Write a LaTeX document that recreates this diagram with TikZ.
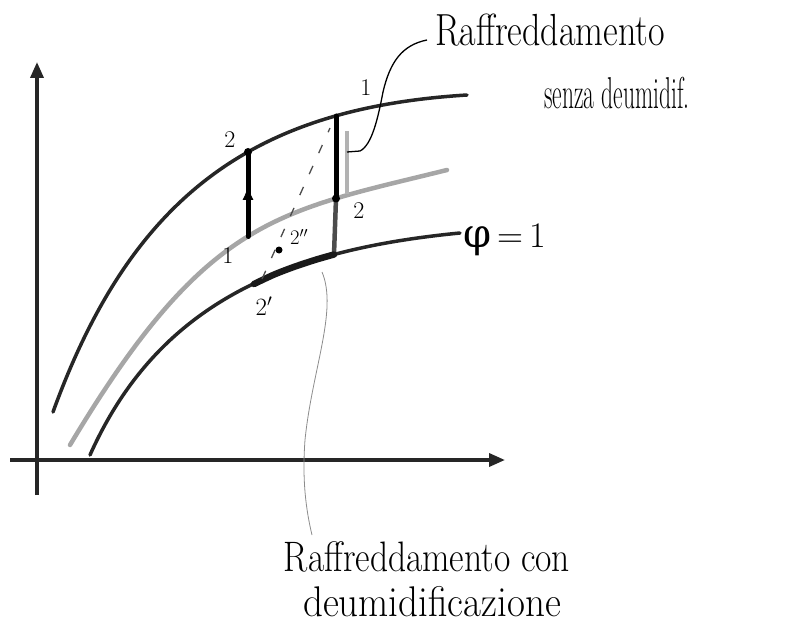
\documentclass[tikz,border=0pt]{standalone}
\usepackage{fontspec}
\newfontfamily\greekfont{DejaVu Serif}
\usetikzlibrary{arrows.meta}
\begin{document}
\begin{tikzpicture}[x=1pt,y=-1pt,
  axis/.style={line width=3.5pt, draw=black!85, -{Triangle[length=16pt,width=13pt]}},
  curvedark/.style={line width=3.5pt, draw=black!85, line cap=round},
  curvegray/.style={line width=4.5pt, draw=black!35, line cap=round},
  procbar/.style={line width=5pt, draw=black, line cap=round},
  leader/.style={line width=1.3pt, draw=black},
  leadergray/.style={line width=0.8pt, draw=black!45},
  dotpt/.style={circle, fill=black, inner sep=0pt, minimum size=8pt},
  lbl/.style={font=\fontsize{24}{28}\selectfont, inner sep=1pt},
  note/.style={inner sep=1pt, align=center}]
\useasboundingbox (0,0) rectangle (795,631);
% axes
\coordinate (xo) at (10,460);
\coordinate (xe) at (505,460);
\coordinate (yo) at (37,495);
\coordinate (ye) at (37,62);
\draw[axis] (xo) -- (xe);
\draw[axis] (yo) -- (ye);
% curves
\draw[curvedark] (53,412) .. controls (133,192) and (257,108) .. (467,95);
\draw[curvegray] (70,445) .. controls (207,216) and (277.5,212) .. (447,170);
\draw[curvedark] (90,455) .. controls (158,303) and (285,250) .. (460,233);
% points
\coordinate (A1) at (336,116);
\coordinate (A2) at (336,198.5);
\coordinate (A3) at (334,254.5);
\coordinate (B1) at (248,236.5);
\coordinate (B2) at (248,152);
\coordinate (C2) at (254,284);
\coordinate (G1) at (347,131);
\coordinate (G2) at (347,194);
\coordinate (D1) at (262,279);
\coordinate (D2) at (330,128);
% process: cooling without dehumidification
\draw[line width=4.5pt, draw=black!70] (A2) -- (A3);
\draw[line width=6.5pt, draw=black!90, line cap=round] plot[smooth, tension=0.5] coordinates {(A3) (315.8,259.7) (294.3,266.8) (273.8,274.7) (C2)};
\draw[procbar] (A1) -- (A2);
\draw[line width=4pt, draw=black!30] (G1) -- (G2);
% left heating bar with arrow
\draw[procbar] (B1) -- (B2);
\draw[line width=1pt, -{Latex[length=14pt,width=11pt]}] (248,212) -- (248,186);
% dashed line
\draw[line width=1.3pt, draw=black!70, dash pattern=on 9pt off 14pt] (D1) -- (D2);
% dots
\node[dotpt] (d2) at (B2) {};
\node[dotpt] (d2r) at (A2) {};
\node[dotpt, minimum size=7pt] (d2dd) at (279,250) {};
% labels
\node[lbl] (l1t) at (366,88) {1};
\node[lbl] (l2t) at (230,140) {2};
\node[lbl] (l1b) at (228,256) {1};
\node[lbl] (l2r) at (359,211) {2};
\node[lbl, font=\fontsize{21}{24}\selectfont] (l2dd) at (299,237) {$2''$};
\node[lbl] (l2p) at (264,306) {$2'$};
\node[inner sep=1pt, anchor=west] (phi) at (462,240) {{\greekfont\fontsize{40}{44}\selectfont φ}\fontsize{36}{40}\selectfont\,=\,1};
% notes
\node[note, font=\fontsize{36}{40}\selectfont] (n1) at (550,30) {\scalebox{1}[1.25]{Raffreddamento}};
\node[note, font=\fontsize{23.5}{28}\selectfont] (n1b) at (617,93) {\scalebox{1}[1.9]{senza deumidif.}};
\node[note, font=\fontsize{35.5}{40}\selectfont] (n2) at (427,557) {\scalebox{1}[1.2]{Raffreddamento con}};
\node[note, font=\fontsize{39}{44}\selectfont] (n2b) at (432,602) {\scalebox{1}[1.1]{deumidificazione}};
% leaders
\coordinate (L1s) at (347,152);
\coordinate (L1e) at (427,40);
\draw[leader] (L1s) -- (360,151) .. controls (372,145) and (378,118) .. (383,92) .. controls (390,62) and (402,45) .. (L1e);
\coordinate (L2s) at (322,272);
\coordinate (L2e) at (312,535);
\draw[leadergray] (L2s) .. controls (338,310) and (312,370) .. (305,440) .. controls (302,480) and (306,510) .. (L2e);
\end{tikzpicture}
\end{document}
